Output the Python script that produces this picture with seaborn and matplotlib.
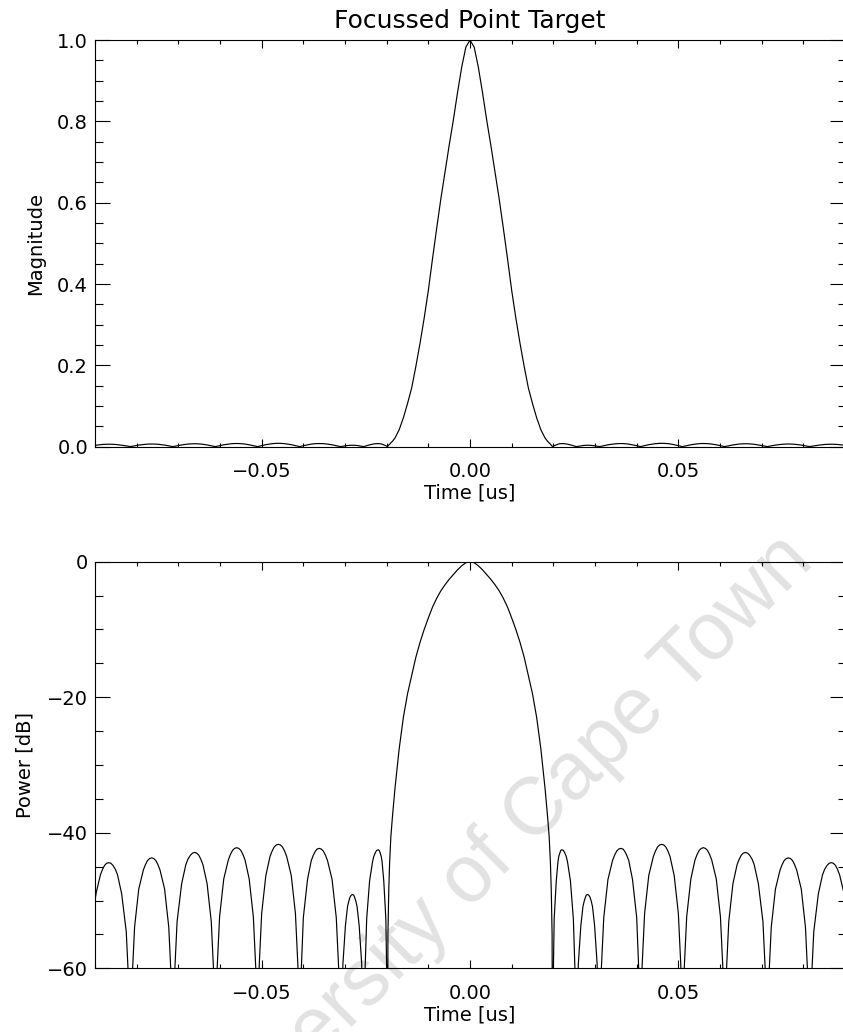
import pandas as pd
import seaborn as sns
from matplotlib import pyplot as plt
from matplotlib.ticker import MultipleLocator, FuncFormatter

# compressed point target response (time in us, power in dB)
# sidelobe nulls are given as -80 dB so they drop through the -60 dB floor
time_us = [
    # sidelobes, left side
    -0.0900, -0.0897, -0.0887, -0.0882, -0.0877, -0.0872, -0.0867, -0.0862, -0.0857, -0.0851, -0.0846, -0.0836, -0.0825, -0.0819, -0.0815,
    -0.0811, -0.0805, -0.0795, -0.0784, -0.0779, -0.0774, -0.0769, -0.0764, -0.0759, -0.0754, -0.0749, -0.0744, -0.0733, -0.0723, -0.0717, -0.0713,
    -0.0709, -0.0703, -0.0692, -0.0682, -0.0677, -0.0671, -0.0666, -0.0661, -0.0656, -0.0651, -0.0646, -0.0641, -0.0631, -0.0621, -0.0615, -0.0611,
    -0.0607, -0.0601, -0.0591, -0.0580, -0.0575, -0.0570, -0.0565, -0.0560, -0.0555, -0.0550, -0.0545, -0.0540, -0.0530, -0.0520, -0.0514, -0.0510,
    -0.0506, -0.0500, -0.0490, -0.0480, -0.0475, -0.0470, -0.0465, -0.0460, -0.0455, -0.0450, -0.0445, -0.0440, -0.0429, -0.0419, -0.0413, -0.0409,
    -0.0405, -0.0400, -0.0390, -0.0381, -0.0376, -0.0371, -0.0367, -0.0362, -0.0357, -0.0352, -0.0347, -0.0342, -0.0331, -0.0321, -0.0315, -0.0311,
    -0.0309, -0.0305, -0.0299, -0.0294, -0.0291, -0.0288, -0.0285, -0.0282, -0.0279, -0.0277, -0.0274, -0.0271, -0.0266, -0.0260, -0.0257, -0.0255,
    -0.0252, -0.0248, -0.0241, -0.0234, -0.0231, -0.0227, -0.0224, -0.0220, -0.0218, -0.0216, -0.0213, -0.0211, -0.0207, -0.0202, -0.0200, -0.0198,
    # main lobe
    -0.0197, -0.0195, -0.0193, -0.0190, -0.0186, -0.0180, -0.0170, -0.0160, -0.0150, -0.0140, -0.0130, -0.0120,
    -0.0110, -0.0100, -0.0090, -0.0080, -0.0070, -0.0060, -0.0050, -0.0040, -0.0030, -0.0020, -0.0010,
    0.0000,
    0.0010, 0.0020, 0.0030, 0.0040, 0.0050, 0.0060, 0.0070, 0.0080, 0.0090, 0.0100, 0.0110,
    0.0120, 0.0130, 0.0140, 0.0150, 0.0160, 0.0170, 0.0180, 0.0186, 0.0190, 0.0193, 0.0195, 0.0197,
    # sidelobes, right side
    0.0198, 0.0200, 0.0202, 0.0207, 0.0211, 0.0213, 0.0216, 0.0218, 0.0220, 0.0224, 0.0227, 0.0231, 0.0234, 0.0241, 0.0248, 0.0252,
    0.0255, 0.0257, 0.0260, 0.0266, 0.0271, 0.0274, 0.0277, 0.0279, 0.0282, 0.0285, 0.0288, 0.0291, 0.0294, 0.0299, 0.0305, 0.0309,
    0.0311, 0.0315, 0.0321, 0.0331, 0.0342, 0.0347, 0.0352, 0.0357, 0.0362, 0.0367, 0.0371, 0.0376, 0.0381, 0.0390, 0.0400, 0.0405,
    0.0409, 0.0413, 0.0419, 0.0429, 0.0440, 0.0445, 0.0450, 0.0455, 0.0460, 0.0465, 0.0470, 0.0475, 0.0480, 0.0490, 0.0500, 0.0506,
    0.0510, 0.0514, 0.0520, 0.0530, 0.0540, 0.0545, 0.0550, 0.0555, 0.0560, 0.0565, 0.0570, 0.0575, 0.0580, 0.0591, 0.0601, 0.0607,
    0.0611, 0.0615, 0.0621, 0.0631, 0.0641, 0.0646, 0.0651, 0.0656, 0.0661, 0.0666, 0.0671, 0.0677, 0.0682, 0.0692, 0.0703, 0.0709,
    0.0713, 0.0717, 0.0723, 0.0733, 0.0744, 0.0749, 0.0754, 0.0759, 0.0764, 0.0769, 0.0774, 0.0779, 0.0784, 0.0795, 0.0805, 0.0811,
    0.0815, 0.0819, 0.0825, 0.0836, 0.0846, 0.0851, 0.0857, 0.0862, 0.0867, 0.0872, 0.0877, 0.0882, 0.0887, 0.0897, 0.0900,
]

power_db = [
    -50.0, -48.8, -46.2, -45.4, -44.8, -44.5, -44.4, -44.5, -44.8, -45.4, -46.2, -49.0, -54.6, -62.4, -80.0,
    -61.7, -53.9, -48.3, -45.5, -44.7, -44.1, -43.8, -43.7, -43.8, -44.1, -44.7, -45.5, -48.3, -53.9, -61.7, -80.0,
    -60.9, -53.1, -47.5, -44.7, -43.9, -43.3, -43.0, -42.9, -43.0, -43.3, -43.9, -44.7, -47.5, -53.1, -60.9, -80.0,
    -60.2, -52.4, -46.8, -44.0, -43.2, -42.6, -42.3, -42.2, -42.3, -42.6, -43.2, -44.0, -46.8, -52.4, -60.2, -80.0,
    -59.7, -51.9, -46.3, -43.5, -42.7, -42.1, -41.8, -41.7, -41.8, -42.1, -42.7, -43.5, -46.3, -51.9, -59.7, -80.0,
    -60.3, -52.5, -46.9, -44.1, -43.3, -42.7, -42.4, -42.3, -42.4, -42.7, -43.3, -44.1, -46.9, -52.5, -60.3, -80.0,
    -67.1, -59.3, -53.7, -50.9, -50.1, -49.5, -49.2, -49.1, -49.2, -49.5, -50.1, -50.9, -53.7, -59.3, -67.1, -80.0,
    -60.5, -52.7, -47.1, -44.3, -43.5, -42.9, -42.6, -42.5, -42.6, -42.9, -43.5, -44.3, -47.1, -52.7, -60.5, -80.0,
    -55.0, -48.5, -44.5, -40.6, -37.5, -33.4, -27.6, -23.0, -19.5, -16.8, -14.1, -11.9,
    -10.0, -8.3, -6.7, -5.4, -4.3, -3.4, -2.6, -1.9, -1.2, -0.6, -0.15,
    0.0,
    -0.15, -0.6, -1.2, -1.9, -2.6, -3.4, -4.3, -5.4, -6.7, -8.3, -10.0,
    -11.9, -14.1, -16.8, -19.5, -23.0, -27.6, -33.4, -37.5, -40.6, -44.5, -48.5, -55.0,
    -80.0, -60.5, -52.7, -47.1, -44.3, -43.5, -42.9, -42.6, -42.5, -42.6, -42.9, -43.5, -44.3, -47.1, -52.7, -60.5,
    -80.0, -67.1, -59.3, -53.7, -50.9, -50.1, -49.5, -49.2, -49.1, -49.2, -49.5, -50.1, -50.9, -53.7, -59.3, -67.1,
    -80.0, -60.3, -52.5, -46.9, -44.1, -43.3, -42.7, -42.4, -42.3, -42.4, -42.7, -43.3, -44.1, -46.9, -52.5, -60.3,
    -80.0, -59.7, -51.9, -46.3, -43.5, -42.7, -42.1, -41.8, -41.7, -41.8, -42.1, -42.7, -43.5, -46.3, -51.9, -59.7,
    -80.0, -60.2, -52.4, -46.8, -44.0, -43.2, -42.6, -42.3, -42.2, -42.3, -42.6, -43.2, -44.0, -46.8, -52.4, -60.2,
    -80.0, -60.9, -53.1, -47.5, -44.7, -43.9, -43.3, -43.0, -42.9, -43.0, -43.3, -43.9, -44.7, -47.5, -53.1, -60.9,
    -80.0, -61.7, -53.9, -48.3, -45.5, -44.7, -44.1, -43.8, -43.7, -43.8, -44.1, -44.7, -45.5, -48.3, -53.9, -61.7,
    -80.0, -62.4, -54.6, -49.0, -46.2, -45.4, -44.8, -44.5, -44.4, -44.5, -44.8, -45.4, -46.2, -48.8, -50.0,
]

title = "Focussed Point Target"
xlabel = "Time [us]"
ylabel_top = "Magnitude"
ylabel_bottom = "Power [dB]"
watermark = "University of Cape Town"


def minus_fmt(fmt):
    # IDL style labels with a real minus sign
    def f(v, pos):
        s = fmt % v
        if float(s) == 0:
            s = s.lstrip('-')
        return s.replace('-', '\u2212')
    return FuncFormatter(f)


def style_axis(ax, ymajor, yminor, yfmt):
    ax.patch.set_alpha(0)
    ax.set_xlim(-0.09, 0.09)
    ax.xaxis.set_major_locator(MultipleLocator(0.05))
    ax.xaxis.set_minor_locator(MultipleLocator(0.01))
    ax.xaxis.set_major_formatter(minus_fmt('%.2f'))
    ax.yaxis.set_major_locator(MultipleLocator(ymajor))
    ax.yaxis.set_minor_locator(MultipleLocator(yminor))
    ax.yaxis.set_major_formatter(minus_fmt(yfmt))
    ax.tick_params(which='both', direction='in', top=True, right=True,
                   color='black', labelcolor='black', width=0.8, labelsize=14)
    ax.tick_params(axis='x', which='major', length=5.5, pad=11)
    ax.tick_params(axis='x', which='minor', length=2.6)
    ax.tick_params(axis='y', which='major', length=10.8, pad=5)
    ax.tick_params(axis='y', which='minor', length=5.4)
    for s in ax.spines.values():
        s.set_visible(True)
        s.set_color('black')
        s.set_linewidth(0.8)
    ax.set_xlabel(xlabel, fontsize=14, labelpad=2, color='black')


def point_target_plot():
    df = pd.DataFrame({'time': time_us, 'power': power_db})
    df['magnitude'] = 10 ** (df['power'] / 20)  # same response on a linear scale

    sns.set_style("ticks")
    plt.rcParams['font.family'] = ['DejaVu Sans']
    plt.rcParams['text.color'] = 'black'
    plt.rcParams['axes.labelcolor'] = 'black'

    fig = plt.figure(figsize=(8.43, 10.32), dpi=100)
    fig.patch.set_facecolor('white')
    ax1 = fig.add_axes([0.1127, 0.5672, 0.8897, 0.3939])
    ax2 = fig.add_axes([0.1127, 0.0617, 0.8897, 0.3940])

    fig.text(0.586, 0.172, watermark, rotation=45, rotation_mode='anchor',
             ha='center', va='center', fontsize=58, color='#e2e2e2',
             family='Liberation Sans', zorder=-1)

    sns.lineplot(data=df, x='time', y='magnitude', ax=ax1, color='black',
                 linewidth=0.85, estimator=None, sort=False)
    ax1.set_ylim(0, 1)
    style_axis(ax1, 0.2, 0.05, '%.1f')
    ax1.set_ylabel(ylabel_top, fontsize=14, labelpad=9, color='black')
    ax1.set_title(title, fontsize=18, pad=8.5, color='black')

    sns.lineplot(data=df, x='time', y='power', ax=ax2, color='black',
                 linewidth=0.85, estimator=None, sort=False)
    ax2.set_ylim(-60, 0)
    style_axis(ax2, 20, 5, '%.0f')
    ax2.set_ylabel(ylabel_bottom, fontsize=14, labelpad=9, color='black')

    plt.savefig('out.png', dpi=100, facecolor='white')


if __name__ == "__main__":
    point_target_plot()
